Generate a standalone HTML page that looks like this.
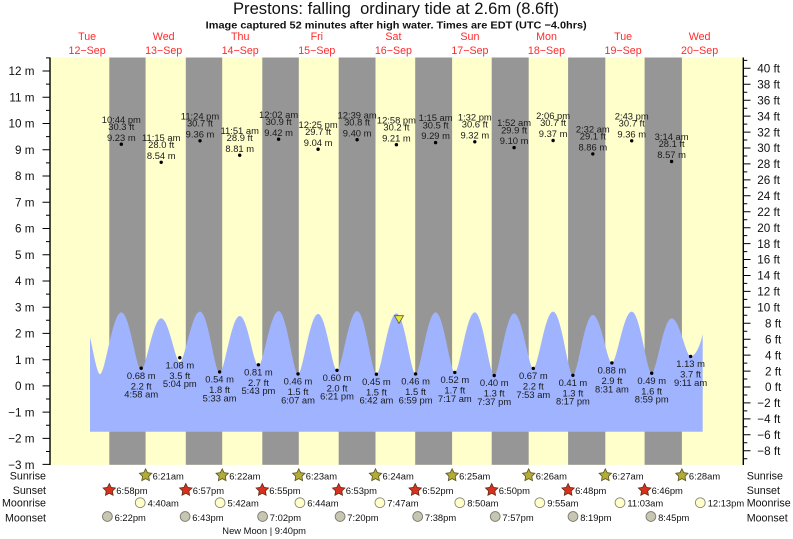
<!DOCTYPE html>
<html><head><meta charset="utf-8"><style>
html,body{margin:0;padding:0;background:#fff;}
svg{display:block;font-family:"Liberation Sans",Arial,sans-serif;}
.tl{font-size:9.4px;fill:#1a1a1a;text-anchor:middle;}
.ax{font-size:11.7px;fill:#111;}
.dy{font-size:10.7px;fill:#ff2a2a;text-anchor:middle;}
.rl{font-size:10.7px;fill:#111;}
.ev{font-size:9.4px;fill:#111;}
</style></head><body>
<svg width="793" height="539" viewBox="0 0 793 539" xmlns="http://www.w3.org/2000/svg">
<defs>
<polygon id="star" points="0,-6.5 1.9,-2.6 6.2,-2 3.1,1 3.8,5.3 0,3.3 -3.8,5.3 -3.1,1 -6.2,-2 -1.9,-2.6"/>
</defs>
<rect width="793" height="539" fill="#fff"/>
<!-- title -->
<text x="233" y="14" font-size="16.5" fill="#111" textLength="326" lengthAdjust="spacingAndGlyphs">Prestons: falling &#160;ordinary tide at 2.6m (8.6ft)</text>
<text x="205.7" y="28.5" font-size="10.5" font-weight="bold" fill="#111" textLength="381" lengthAdjust="spacingAndGlyphs">Image captured 52 minutes after high water. Times are EDT (UTC −4.0hrs)</text>
<!-- day labels -->
<g class="dy">
<text x="87.1" y="40.2">Tue</text><text x="87.1" y="54">12−Sep</text>
<text x="163.7" y="40.2">Wed</text><text x="163.7" y="54">13−Sep</text>
<text x="240.2" y="40.2">Thu</text><text x="240.2" y="54">14−Sep</text>
<text x="316.8" y="40.2">Fri</text><text x="316.8" y="54">15−Sep</text>
<text x="393.4" y="40.2">Sat</text><text x="393.4" y="54">16−Sep</text>
<text x="469.9" y="40.2">Sun</text><text x="469.9" y="54">17−Sep</text>
<text x="546.5" y="40.2">Mon</text><text x="546.5" y="54">18−Sep</text>
<text x="623.1" y="40.2">Tue</text><text x="623.1" y="54">19−Sep</text>
<text x="699.6" y="40.2">Wed</text><text x="699.6" y="54">20−Sep</text>
</g>
<!-- plot background -->
<rect x="50" y="57.5" width="693.3" height="407.3" fill="#ffffcc"/>
<g fill="#969696">
<rect x="109.3" y="57.5" width="36.3" height="407.3"/>
<rect x="185.8" y="57.5" width="36.4" height="407.3"/>
<rect x="262.3" y="57.5" width="36.5" height="407.3"/>
<rect x="338.7" y="57.5" width="36.8" height="407.3"/>
<rect x="415.2" y="57.5" width="36.9" height="407.3"/>
<rect x="491.7" y="57.5" width="37.0" height="407.3"/>
<rect x="568.1" y="57.5" width="37.2" height="407.3"/>
<rect x="644.6" y="57.5" width="37.3" height="407.3"/>
</g>
<!-- tide curve -->
<path fill="#9fb3ff" d="M90,337.3 C93,350 97,374.2 100,374.2
C105.3,374.2 112.4,312.4 121.3,312.4
C129.7,312.4 136.2,370 141.2,370
C146.2,370 152.8,318.4 161.2,318.4
C169,318.4 175.2,362 179.8,362
C184.9,362 191.5,311.6 200,311.6
C208.2,311.6 214.7,373 219.6,373
C224.6,373 231.3,316 239.7,316
C247.6,316 253.7,366 258.4,366
C263.4,366 270.1,311.1 278.6,311.1
C286.7,311.1 293.2,374 298,374
C303,374 309.7,314 318.1,314
C326,314 332.3,370.3 337,370.3
C342,370.3 348.7,311.1 357.1,311.1
C365.2,311.1 371.6,374.2 376.4,374.2
C381.4,374.2 388,313.4 396.4,313.4
C404.5,313.4 410.8,374 415.6,374
C420.6,374 427.2,312.4 435.6,312.4
C443.7,312.4 450,372.4 454.8,372.4
C459.8,372.4 466.4,312.4 474.8,312.4
C482.9,312.4 489.4,375.5 494.2,375.5
C499.2,375.5 505.7,313.4 514.1,313.4
C522.2,313.4 528.5,368.4 533.3,368.4
C538.3,368.4 544.8,311.6 553.1,311.6
C561.4,311.6 568,375.3 572.9,375.3
C577.9,375.3 584.4,315 592.8,315
C600.8,315 607.1,362.9 611.9,362.9
C616.9,362.9 623.4,311.6 631.7,311.6
C640.1,311.6 646.7,373.2 651.7,373.2
C656.7,373.2 663.2,318.4 671.6,318.4
C679.6,318.4 685.8,356.4 690.6,356.4
C695,356.4 700,347 702.7,334
L702.7,431.7 L90,431.7 Z"/>
<!-- current marker -->
<polygon points="394.5,315.7 403.5,315.7 399,323.5" fill="#ecec2c" stroke="#555" stroke-width="0.8"/>
<!-- high tide labels -->
<g class="tl">
<g transform="translate(121.3,144.2)"><text y="-21.4">10:44 pm</text><text y="-14.3">30.3 ft</text><text y="-3.4">9.23 m</text></g>
<g transform="translate(161.2,162.3)"><text y="-21.4">11:15 am</text><text y="-14.3">28.0 ft</text><text y="-3.4">8.54 m</text></g>
<g transform="translate(200,140.8)"><text y="-21.4">11:24 pm</text><text y="-14.3">30.7 ft</text><text y="-3.4">9.36 m</text></g>
<g transform="translate(239.7,155.2)"><text y="-21.4">11:51 am</text><text y="-14.3">28.9 ft</text><text y="-3.4">8.81 m</text></g>
<g transform="translate(278.6,139.2)"><text y="-21.4">12:02 am</text><text y="-14.3">30.9 ft</text><text y="-3.4">9.42 m</text></g>
<g transform="translate(318.1,149.2)"><text y="-21.4">12:25 pm</text><text y="-14.3">29.7 ft</text><text y="-3.4">9.04 m</text></g>
<g transform="translate(357.1,139.7)"><text y="-21.4">12:39 am</text><text y="-14.3">30.8 ft</text><text y="-3.4">9.40 m</text></g>
<g transform="translate(396.4,144.7)"><text y="-21.4">12:58 pm</text><text y="-14.3">30.2 ft</text><text y="-3.4">9.21 m</text></g>
<g transform="translate(435.6,142.6)"><text y="-21.4">1:15 am</text><text y="-14.3">30.5 ft</text><text y="-3.4">9.29 m</text></g>
<g transform="translate(474.8,141.8)"><text y="-21.4">1:32 pm</text><text y="-14.3">30.6 ft</text><text y="-3.4">9.32 m</text></g>
<g transform="translate(514.1,147.6)"><text y="-21.4">1:52 am</text><text y="-14.3">29.9 ft</text><text y="-3.4">9.10 m</text></g>
<g transform="translate(553.1,140.5)"><text y="-21.4">2:06 pm</text><text y="-14.3">30.7 ft</text><text y="-3.4">9.37 m</text></g>
<g transform="translate(592.8,153.9)"><text y="-21.4">2:32 am</text><text y="-14.3">29.1 ft</text><text y="-3.4">8.86 m</text></g>
<g transform="translate(631.7,140.8)"><text y="-21.4">2:43 pm</text><text y="-14.3">30.7 ft</text><text y="-3.4">9.36 m</text></g>
<g transform="translate(671.6,161.5)"><text y="-21.4">3:14 am</text><text y="-14.3">28.1 ft</text><text y="-3.4">8.57 m</text></g>
<!-- low tide labels -->
<g transform="translate(141.2,368.2)"><text y="10.7">0.68 m</text><text y="21.1">2.2 ft</text><text y="29.4">4:58 am</text></g>
<g transform="translate(179.8,357.7)"><text y="10.7">1.08 m</text><text y="21.1">3.5 ft</text><text y="29.4">5:04 pm</text></g>
<g transform="translate(219.6,371.9)"><text y="10.7">0.54 m</text><text y="21.1">1.8 ft</text><text y="29.4">5:33 am</text></g>
<g transform="translate(258.4,364.8)"><text y="10.7">0.81 m</text><text y="21.1">2.7 ft</text><text y="29.4">5:43 pm</text></g>
<g transform="translate(298,373.9)"><text y="10.7">0.46 m</text><text y="21.1">1.5 ft</text><text y="29.4">6:07 am</text></g>
<g transform="translate(337,370.3)"><text y="10.7">0.60 m</text><text y="21.1">2.0 ft</text><text y="29.4">6:21 pm</text></g>
<g transform="translate(376.4,374.2)"><text y="10.7">0.45 m</text><text y="21.1">1.5 ft</text><text y="29.4">6:42 am</text></g>
<g transform="translate(415.6,373.9)"><text y="10.7">0.46 m</text><text y="21.1">1.5 ft</text><text y="29.4">6:59 pm</text></g>
<g transform="translate(454.8,372.4)"><text y="10.7">0.52 m</text><text y="21.1">1.7 ft</text><text y="29.4">7:17 am</text></g>
<g transform="translate(494.2,375.5)"><text y="10.7">0.40 m</text><text y="21.1">1.3 ft</text><text y="29.4">7:37 pm</text></g>
<g transform="translate(533.3,368.4)"><text y="10.7">0.67 m</text><text y="21.1">2.2 ft</text><text y="29.4">7:53 am</text></g>
<g transform="translate(572.9,375.3)"><text y="10.7">0.41 m</text><text y="21.1">1.3 ft</text><text y="29.4">8:17 pm</text></g>
<g transform="translate(611.9,362.9)"><text y="10.7">0.88 m</text><text y="21.1">2.9 ft</text><text y="29.4">8:31 am</text></g>
<g transform="translate(651.7,373.2)"><text y="10.7">0.49 m</text><text y="21.1">1.6 ft</text><text y="29.4">8:59 pm</text></g>
<g transform="translate(690.6,356.4)"><text y="10.7">1.13 m</text><text y="21.1">3.7 ft</text><text y="29.4">9:11 am</text></g>
</g>
<!-- dots -->
<g fill="#000">
<circle cx="121.3" cy="144.2" r="1.7"/><circle cx="161.2" cy="162.3" r="1.7"/><circle cx="200" cy="140.8" r="1.7"/>
<circle cx="239.7" cy="155.2" r="1.7"/><circle cx="278.6" cy="139.2" r="1.7"/><circle cx="318.1" cy="149.2" r="1.7"/>
<circle cx="357.1" cy="139.7" r="1.7"/><circle cx="396.4" cy="144.7" r="1.7"/><circle cx="435.6" cy="142.6" r="1.7"/>
<circle cx="474.8" cy="141.8" r="1.7"/><circle cx="514.1" cy="147.6" r="1.7"/><circle cx="553.1" cy="140.5" r="1.7"/>
<circle cx="592.8" cy="153.9" r="1.7"/><circle cx="631.7" cy="140.8" r="1.7"/><circle cx="671.6" cy="161.5" r="1.7"/>
<circle cx="141.2" cy="368.2" r="1.7"/><circle cx="179.8" cy="357.7" r="1.7"/><circle cx="219.6" cy="371.9" r="1.7"/>
<circle cx="258.4" cy="364.8" r="1.7"/><circle cx="298" cy="373.9" r="1.7"/><circle cx="337" cy="370.3" r="1.7"/>
<circle cx="376.4" cy="374.2" r="1.7"/><circle cx="415.6" cy="373.9" r="1.7"/><circle cx="454.8" cy="372.4" r="1.7"/>
<circle cx="494.2" cy="375.5" r="1.7"/><circle cx="533.3" cy="368.4" r="1.7"/><circle cx="572.9" cy="375.3" r="1.7"/>
<circle cx="611.9" cy="362.9" r="1.7"/><circle cx="651.7" cy="373.2" r="1.7"/><circle cx="690.6" cy="356.4" r="1.7"/>
</g>
<!-- left axis -->
<line x1="50" y1="57.5" x2="50" y2="465" stroke="#000" stroke-width="1.4"/>
<g stroke="#000" stroke-width="1">
<path d="M42.5,71H50M42.5,97.3H50M42.5,123.5H50M42.5,149.7H50M42.5,176H50M42.5,202.2H50M42.5,228.5H50M42.5,254.7H50M42.5,281H50M42.5,307.2H50M42.5,333.4H50M42.5,359.7H50M42.5,385.9H50M42.5,412.1H50M42.5,438.4H50M42.5,464.4H50"/>
<path d="M46,57.9H50M46,84.1H50M46,110.4H50M46,136.6H50M46,162.9H50M46,189.1H50M46,215.3H50M46,241.6H50M46,267.8H50M46,294.1H50M46,320.3H50M46,346.5H50M46,372.8H50M46,399H50M46,425.3H50M46,451.5H50"/>
</g>
<g class="ax" text-anchor="end">
<text x="34.5" y="75.2">12 m</text><text x="34.5" y="101.5">11 m</text><text x="34.5" y="127.7">10 m</text>
<text x="34.5" y="153.9">9 m</text><text x="34.5" y="180.2">8 m</text><text x="34.5" y="206.4">7 m</text>
<text x="34.5" y="232.7">6 m</text><text x="34.5" y="258.9">5 m</text><text x="34.5" y="285.2">4 m</text>
<text x="34.5" y="311.4">3 m</text><text x="34.5" y="337.6">2 m</text><text x="34.5" y="363.9">1 m</text>
<text x="34.5" y="390.1">0 m</text><text x="34.5" y="416.3">−1 m</text><text x="34.5" y="442.6">−2 m</text>
<text x="34.5" y="468.8">−3 m</text>
</g>
<!-- right axis -->
<line x1="743.3" y1="57.5" x2="743.3" y2="465" stroke="#000" stroke-width="1.4"/>
<g stroke="#000" stroke-width="1">
<path d="M743.3,68.3h7.2M743.3,84.3h7.2M743.3,100.2h7.2M743.3,116.1h7.2M743.3,132.1h7.2M743.3,148h7.2M743.3,163.9h7.2M743.3,179.9h7.2M743.3,195.8h7.2M743.3,211.7h7.2M743.3,227.7h7.2M743.3,243.6h7.2M743.3,259.5h7.2M743.3,275.5h7.2M743.3,291.4h7.2M743.3,307.3h7.2M743.3,323.3h7.2M743.3,339.2h7.2M743.3,355.1h7.2M743.3,371.1h7.2M743.3,387h7.2M743.3,402.9h7.2M743.3,418.9h7.2M743.3,434.8h7.2M743.3,450.7h7.2"/>
<path d="M743.3,60.4h4M743.3,76.3h4M743.3,92.2h4M743.3,108.2h4M743.3,124.1h4M743.3,140h4M743.3,156h4M743.3,171.9h4M743.3,187.8h4M743.3,203.8h4M743.3,219.7h4M743.3,235.6h4M743.3,251.6h4M743.3,267.5h4M743.3,283.4h4M743.3,299.4h4M743.3,315.3h4M743.3,331.2h4M743.3,347.2h4M743.3,363.1h4M743.3,379h4M743.3,395h4M743.3,410.9h4M743.3,426.8h4M743.3,442.8h4M743.3,458.7h4"/>
</g>
<g class="ax">
<text x="757.3" y="72.5">40 ft</text><text x="757.3" y="88.5">38 ft</text><text x="757.3" y="104.4">36 ft</text>
<text x="757.3" y="120.3">34 ft</text><text x="757.3" y="136.3">32 ft</text><text x="757.3" y="152.2">30 ft</text>
<text x="757.3" y="168.1">28 ft</text><text x="757.3" y="184.1">26 ft</text><text x="757.3" y="200">24 ft</text>
<text x="757.3" y="215.9">22 ft</text><text x="757.3" y="231.9">20 ft</text><text x="757.3" y="247.8">18 ft</text>
<text x="757.3" y="263.7">16 ft</text><text x="757.3" y="279.7">14 ft</text><text x="757.3" y="295.6">12 ft</text>
<text x="757.3" y="311.5">10 ft</text><text x="765" y="327.5">8 ft</text><text x="765" y="343.4">6 ft</text>
<text x="765" y="359.3">4 ft</text><text x="765" y="375.3">2 ft</text><text x="765" y="391.2">0 ft</text>
<text x="757.3" y="407.1">−2 ft</text><text x="757.3" y="423.1">−4 ft</text><text x="757.3" y="439">−6 ft</text>
<text x="757.3" y="454.9">−8 ft</text>
</g>
<!-- bottom rows labels -->
<g class="rl" text-anchor="end">
<text x="46" y="479.3">Sunrise</text><text x="46" y="494">Sunset</text><text x="46" y="506.6">Moonrise</text><text x="46" y="521.3">Moonset</text>
</g>
<g class="rl">
<text x="746.7" y="479.3">Sunrise</text><text x="746.7" y="494">Sunset</text><text x="746.7" y="506.6">Moonrise</text><text x="746.7" y="521.3">Moonset</text>
</g>
<!-- sunrise -->
<g fill="#b3ad38" stroke="#5a5520" stroke-width="0.8">
<use href="#star" x="145.6" y="475.3"/><use href="#star" x="222.2" y="475.3"/><use href="#star" x="298.8" y="475.3"/><use href="#star" x="375.5" y="475.3"/>
<use href="#star" x="452.1" y="475.3"/><use href="#star" x="528.7" y="475.3"/><use href="#star" x="605.3" y="475.3"/><use href="#star" x="681.9" y="475.3"/>
</g>
<g class="ev">
<text x="152.6" y="479.3">6:21am</text><text x="229.2" y="479.3">6:22am</text><text x="305.8" y="479.3">6:23am</text><text x="382.5" y="479.3">6:24am</text>
<text x="459.1" y="479.3">6:25am</text><text x="535.7" y="479.3">6:26am</text><text x="612.3" y="479.3">6:27am</text><text x="688.9" y="479.3">6:28am</text>
</g>
<!-- sunset -->
<g fill="#d6321e" stroke="#5a2a18" stroke-width="0.8">
<use href="#star" x="109.3" y="490"/><use href="#star" x="185.8" y="490"/><use href="#star" x="262.3" y="490"/><use href="#star" x="338.7" y="490"/>
<use href="#star" x="415.2" y="490"/><use href="#star" x="491.7" y="490"/><use href="#star" x="568.1" y="490"/><use href="#star" x="644.6" y="490"/>
</g>
<g class="ev">
<text x="116.3" y="494">6:58pm</text><text x="192.8" y="494">6:57pm</text><text x="269.3" y="494">6:55pm</text><text x="345.7" y="494">6:53pm</text>
<text x="422.2" y="494">6:52pm</text><text x="498.7" y="494">6:50pm</text><text x="575.1" y="494">6:48pm</text><text x="651.6" y="494">6:46pm</text>
</g>
<!-- moonrise -->
<g fill="#ffffc8" stroke="#8a8a80" stroke-width="0.9">
<circle cx="140.2" cy="502.7" r="4.9"/><circle cx="220.1" cy="502.7" r="4.9"/><circle cx="299.9" cy="502.7" r="4.9"/><circle cx="379.9" cy="502.7" r="4.9"/>
<circle cx="459.8" cy="502.7" r="4.9"/><circle cx="539.8" cy="502.7" r="4.9"/><circle cx="620" cy="502.7" r="4.9"/><circle cx="700.3" cy="502.7" r="4.9"/>
</g>
<g class="ev">
<text x="147.6" y="506.6">4:40am</text><text x="227.5" y="506.6">5:42am</text><text x="307.3" y="506.6">6:44am</text><text x="387.3" y="506.6">7:47am</text>
<text x="467.2" y="506.6">8:50am</text><text x="547.2" y="506.6">9:55am</text><text x="627.4" y="506.6">11:03am</text><text x="707.7" y="506.6">12:13pm</text>
</g>
<!-- moonset -->
<g fill="#c6c6b2" stroke="#7a7a72" stroke-width="0.9">
<circle cx="107.4" cy="516.5" r="4.9"/><circle cx="185.1" cy="516.5" r="4.9"/><circle cx="262.6" cy="516.5" r="4.9"/><circle cx="340.1" cy="516.5" r="4.9"/>
<circle cx="417.7" cy="516.5" r="4.9"/><circle cx="495.2" cy="516.5" r="4.9"/><circle cx="573" cy="516.5" r="4.9"/><circle cx="650.9" cy="516.5" r="4.9"/>
</g>
<g class="ev">
<text x="114.6" y="520.8">6:22pm</text><text x="192.3" y="520.8">6:43pm</text><text x="269.8" y="520.8">7:02pm</text><text x="347.3" y="520.8">7:20pm</text>
<text x="424.9" y="520.8">7:38pm</text><text x="502.4" y="520.8">7:57pm</text><text x="580.2" y="520.8">8:19pm</text><text x="658.1" y="520.8">8:45pm</text>
</g>
<text class="ev" x="222.3" y="534" textLength="83.7" lengthAdjust="spacingAndGlyphs">New Moon | 9:40pm</text>
</svg>
</body></html>
